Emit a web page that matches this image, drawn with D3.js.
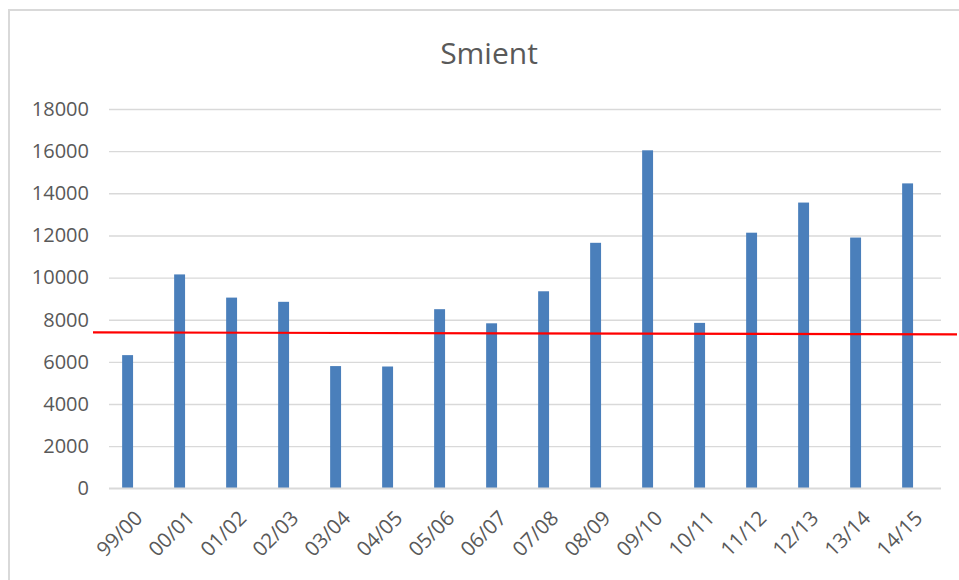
<!DOCTYPE html>
<html>
<head>
<meta charset="utf-8">
<script src="https://cdn.jsdelivr.net/npm/d3@7"></script>
<style>
  html, body { margin: 0; padding: 0; background: #fff; }
  svg { display: block; }
</style>
</head>
<body>
<svg id="chart" width="959" height="580"></svg>
<script>
const title = "Smient";
const categories = ["99/00","00/01","01/02","02/03","03/04","04/05","05/06","06/07","07/08","08/09","09/10","10/11","11/12","12/13","13/14","14/15"];
const values = [6320, 10150, 9050, 8850, 5800, 5780, 8500, 7830, 9350, 11650, 16040, 7850, 12130, 13560, 11900, 14470];
const yTicks = [0, 2000, 4000, 6000, 8000, 10000, 12000, 14000, 16000, 18000];
// red reference line: position along category index, value
const redLine = [{i: -0.165, v: 7400}, {i: 16.45, v: 7305}];

const svg = d3.select("#chart");
const W = 959, H = 580;

// frame
svg.append("path")
  .attr("d", `M9,${H} L9,10 L${W},10`)
  .attr("fill", "none")
  .attr("stroke", "#d9d9d9")
  .attr("stroke-width", 2);

const plotLeft = 109, plotRight = 941;
const y = d3.scaleLinear().domain([0, 18000]).range([488.3, 109]);
const x = d3.scaleBand().domain(categories).range([101.6, 933.6]).paddingInner(0.79).paddingOuter(0.395);
const xi = d3.scaleLinear().domain([0, 16]).range([101.6, 933.6]);

// gridlines
const yAxis = d3.axisLeft(y).tickValues(yTicks).tickSize(-(plotRight - plotLeft)).tickFormat(d => d).tickPadding(20);
const gy = svg.append("g").attr("transform", `translate(${plotLeft},0)`).call(yAxis);
gy.select(".domain").remove();
gy.selectAll(".tick line").attr("stroke", "#d9d9d9").attr("stroke-width", 1.4);
gy.selectAll(".tick text")
  .attr("fill", "#595959")
  .style("font-family", "'Open Sans', sans-serif")
  .style("font-size", "20px");

// bars
svg.append("g").selectAll("rect").data(values).join("rect")
  .attr("x", (d, i) => x(categories[i]))
  .attr("width", x.bandwidth())
  .attr("y", d => y(d))
  .attr("height", d => y(0) - y(d))
  .attr("fill", "#4a7fbb");

// x axis baseline & labels
const xAxis = d3.axisBottom(x).tickSize(0).tickPadding(0);
const gx = svg.append("g").attr("transform", `translate(0,${y(0)})`).call(xAxis);
gx.select(".domain").remove();
gx.append("line").attr("x1", plotLeft).attr("x2", plotRight).attr("y1", 0).attr("y2", 0)
  .attr("stroke", "#d9d9d9").attr("stroke-width", 1.4);
gx.selectAll(".tick text")
  .attr("fill", "#595959")
  .style("font-family", "'Open Sans', sans-serif")
  .style("font-size", "20.5px")
  .attr("text-anchor", "end")
  .attr("dy", null)
  .attr("y", null)
  .attr("transform", "translate(11,26) rotate(-45)")
  .attr("dy", "0.35em");

// red line
svg.append("path")
  .datum(redLine)
  .attr("d", d3.line().x(d => xi(d.i)).y(d => y(d.v)))
  .attr("stroke", "#ff0000")
  .attr("stroke-width", 2.2)
  .attr("fill", "none");

// title
svg.append("text")
  .attr("x", 489)
  .attr("y", 64)
  .attr("text-anchor", "middle")
  .attr("fill", "#595959")
  .style("font-family", "'Open Sans', sans-serif")
  .style("font-size", "30px")
  .text(title);
</script>
</body>
</html>
